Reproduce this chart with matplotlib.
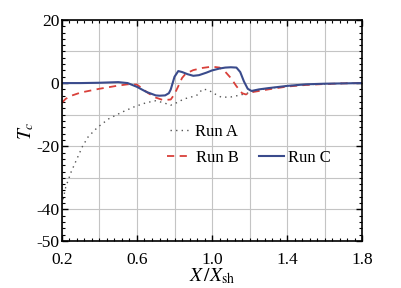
import matplotlib
matplotlib.use('Agg')
import matplotlib.pyplot as plt
from matplotlib.ticker import MultipleLocator

plt.rcParams['font.family'] = 'Liberation Serif'
plt.rcParams['mathtext.fontset'] = 'stix'
plt.rcParams['axes.unicode_minus'] = False

# Run A (dotted)
xa = [0.2, 0.22, 0.25, 0.28, 0.31, 0.34, 0.39, 0.45, 0.52, 0.59, 0.65, 0.7, 0.74, 0.78, 0.82,
      0.85, 0.88, 0.92, 0.95, 0.98, 1.02, 1.05, 1.1, 1.15, 1.2, 1.25, 1.3, 1.4, 1.5, 1.6, 1.7, 1.8]
ya = [-38.5, -33, -28, -24, -20, -17, -14, -11.3, -9.2, -7.4, -6.2, -5.6, -6.2, -7.0, -6.0,
      -5.0, -4.6, -3.8, -1.9, -2.2, -3.6, -4.5, -4.4, -3.8, -3.0, -2.2, -1.7, -0.9, -0.5, -0.3, -0.1, 0]

# Run B (dashed)
xb = [0.2, 0.22, 0.25, 0.3, 0.35, 0.4, 0.45, 0.5, 0.55, 0.6, 0.63, 0.66, 0.7, 0.74, 0.78, 0.8,
      0.82, 0.84, 0.86, 0.9, 0.95, 1.0, 1.04, 1.07, 1.1, 1.13, 1.16, 1.18, 1.22, 1.3, 1.4, 1.5,
      1.6, 1.7, 1.8]
yb = [-6.2, -5, -4, -3, -2.4, -1.8, -1.3, -0.8, -0.4, -0.5, -1.8, -3.2, -4.6, -5.4, -5.2, -3.5,
      -1.0, 1.6, 3.0, 4.1, 4.8, 5.2, 4.9, 3.6, 1.6, -1.0, -3.2, -3.6, -2.8, -2.0, -1.1, -0.6,
      -0.3, -0.1, 0]

# Run C (solid)
xc = [0.2, 0.3, 0.4, 0.45, 0.5, 0.55, 0.6, 0.65, 0.7, 0.72, 0.75, 0.77, 0.78, 0.79, 0.8, 0.82,
      0.84, 0.87, 0.9, 0.93, 0.97, 1.0, 1.04, 1.07, 1.1, 1.13, 1.15, 1.17, 1.19, 1.21, 1.25, 1.3,
      1.4, 1.5, 1.6, 1.7, 1.8]
yc = [0, 0, 0.1, 0.2, 0.3, 0, -1.2, -2.8, -3.9, -4.0, -3.9, -3.2, -2.0, 0, 2.0, 3.8,
      3.5, 2.8, 2.3, 2.5, 3.3, 4.0, 4.6, 4.9, 5.0, 4.9, 3.5, 0.5, -1.8, -2.5, -2.0, -1.6,
      -0.9, -0.4, -0.2, -0.1, 0]

xticks = [0.2, 0.6, 1.0, 1.4, 1.8]
yticks = [-50, -40, -20, 0, 20]

fig = plt.figure(figsize=(4.02, 2.88), dpi=100)
ax = fig.add_axes([0.154, 0.163, 0.747, 0.768])

ax.grid(True, color='#c4c4c4', lw=0.8)
ax.set_axisbelow(True)

la, = ax.plot(xa, ya, color='#555555', lw=1.0, ls=(0, (1, 3)))
lb, = ax.plot(xb, yb, color='#d9403a', lw=1.3, ls=(0, (4, 3)))
lc, = ax.plot(xc, yc, color='#3a4b8c', lw=1.5)

ax.set_xlim(0.2, 1.8)
ax.set_ylim(-50, 20)
ax.set_xticks(xticks)
ax.set_xticklabels(['0.2', '0.6', '1.0', '1.4', '1.8'])
ax.set_yticks(yticks)
ax.xaxis.set_minor_locator(MultipleLocator(0.04))
ax.yaxis.set_minor_locator(MultipleLocator(2))
# grid lines every 0.2 / 10
for gx in [0.4, 0.8, 1.2, 1.6]:
    ax.axvline(gx, color='#c4c4c4', lw=0.8, zorder=0)
for gy in [-30, -10, 10]:
    ax.axhline(gy, color='#c4c4c4', lw=0.8, zorder=0)

ax.tick_params(which='both', direction='in', top=True, right=True, labelsize=12.5)
ax.tick_params(axis='x', pad=8)
ax.tick_params(axis='y', pad=2)
ax.tick_params(which='major', length=4, width=1)
ax.tick_params(which='minor', length=2, width=0.8)
for s in ax.spines.values():
    s.set_linewidth(1.2)

ax.set_ylabel('$T_c$', fontsize=14, labelpad=0)
ax.set_xlabel(r'$X\,/X_{\rm sh}$', fontsize=14, labelpad=-1)

leg1 = ax.legend([la], ['Run A'], loc='center left', bbox_to_anchor=(0.36, 0.493),
                 frameon=False, borderaxespad=0, borderpad=0, handlelength=1.2,
                 handletextpad=0.3, prop={'size': 12})
ax.add_artist(leg1)
ax.legend([lb, lc], ['Run B', 'Run C'], loc='center left', bbox_to_anchor=(0.35, 0.376),
          ncol=2, frameon=False, borderaxespad=0, borderpad=0, handlelength=1.5,
          handletextpad=0.25, columnspacing=1.2, prop={'size': 12})

fig.savefig('out.png', dpi=100)
